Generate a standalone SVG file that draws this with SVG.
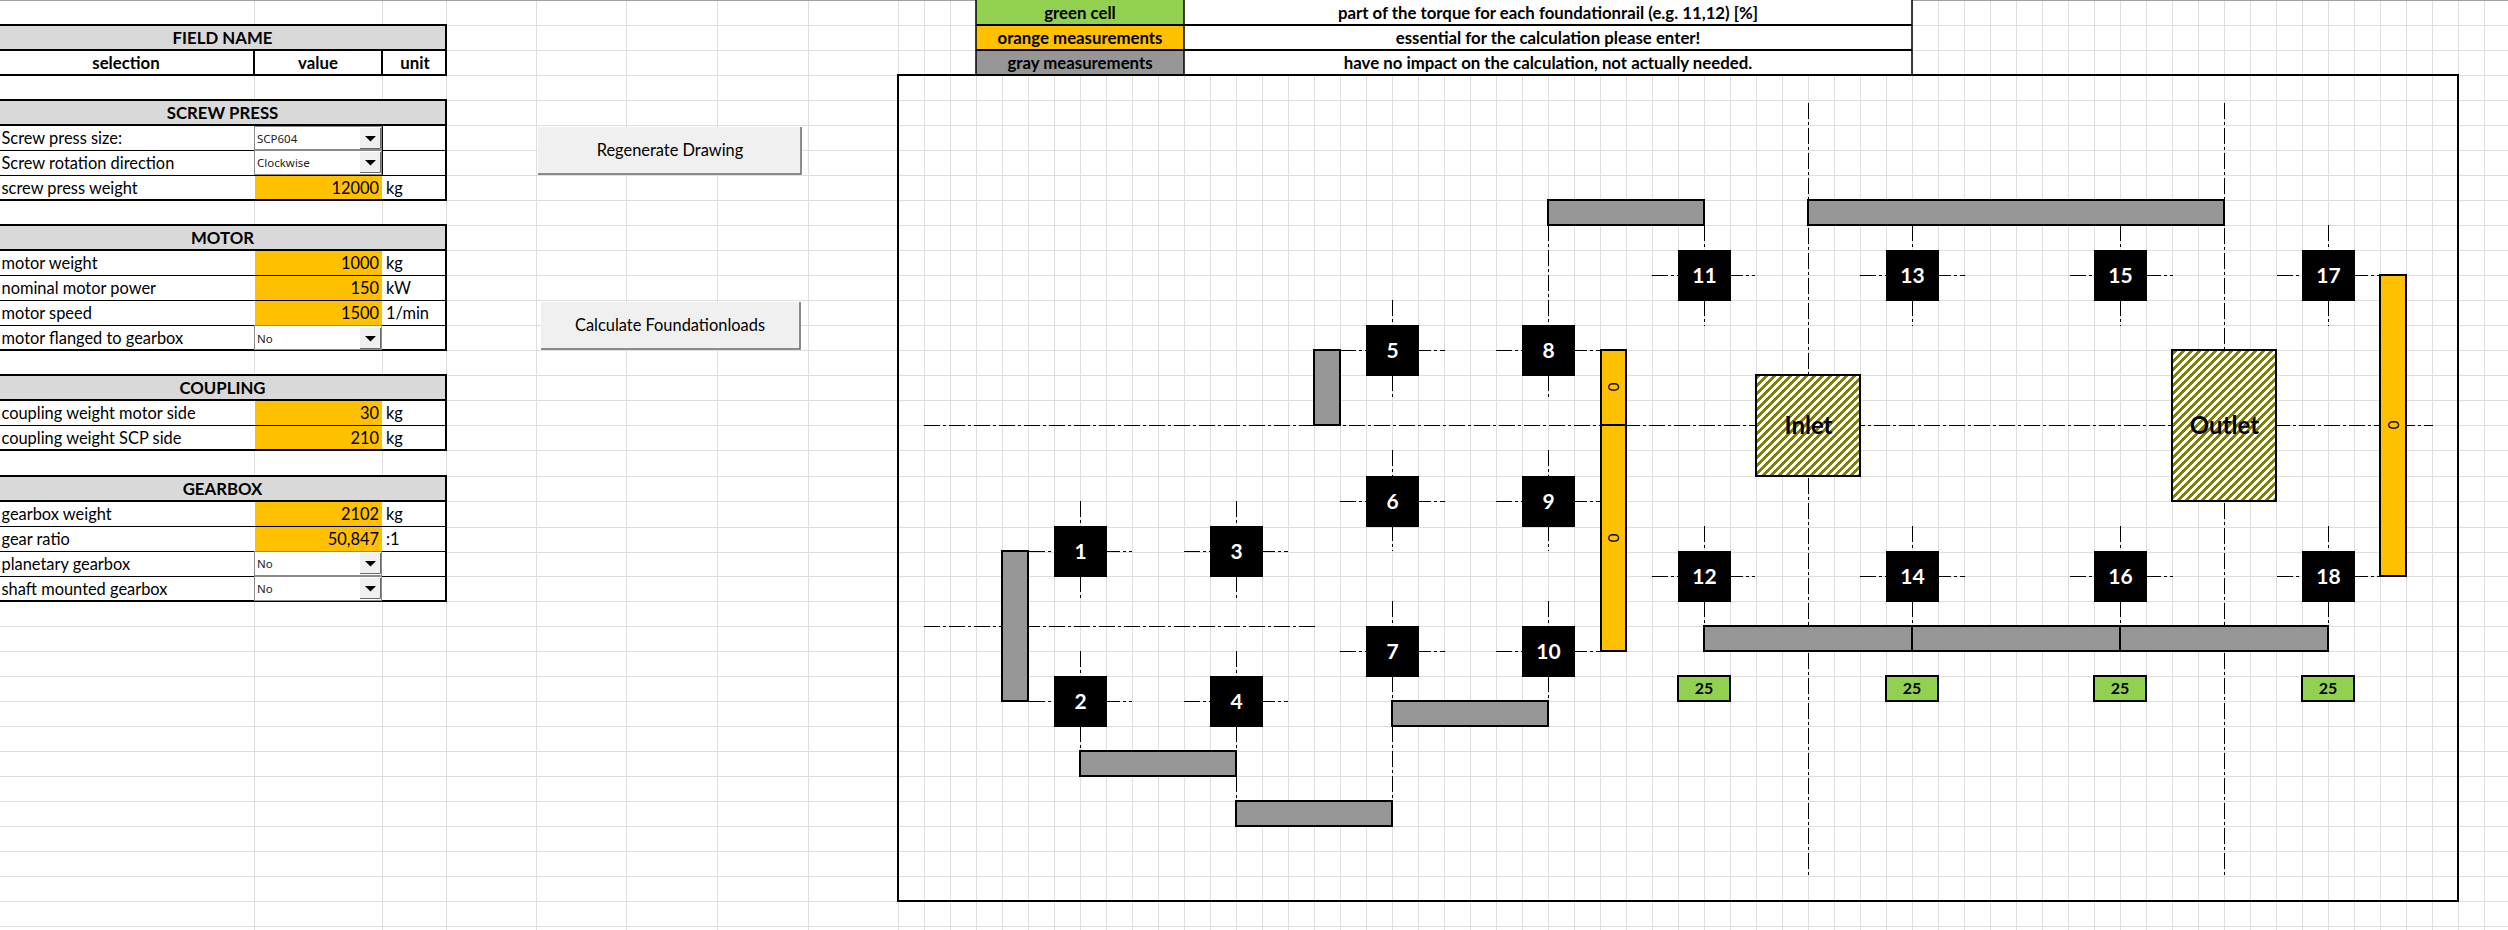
<svg xmlns="http://www.w3.org/2000/svg" width="2508" height="930" viewBox="0 0 2508 930">
<style>
text{font-family:Lato,"Open Sans","Liberation Sans",sans-serif;font-size:16.4px;fill:#000}
.b{font-weight:700;font-size:16.8px}
.c{text-anchor:middle}
.r{text-anchor:end}
.g{stroke:#dedede;stroke-width:1;fill:none}
.hdr{fill:#d9d9d9;stroke:#000;stroke-width:2}
.box{fill:#fff;stroke:#000;stroke-width:2}
.or{fill:#ffc000}
.thin{stroke:#000;stroke-width:1;fill:none}
.dd{font-family:"Noto Sans","Open Sans",sans-serif;font-size:11.5px;fill:#222}
.ddb{fill:#f0f0f0;stroke:#fff;stroke-width:1}
.dde{fill:#fff;stroke:#8a8a8a;stroke-width:1}
.btn{fill:#f0f0f0}
.bs{stroke:#696969;stroke-width:1.5;fill:none}
.gr{fill:#969696;stroke:#000;stroke-width:2}
.bar{fill:#ffc000;stroke:#000;stroke-width:2}
.gn{fill:#92d050;stroke:#000;stroke-width:2}
.hatch{fill:url(#h);stroke:#000;stroke-width:2}
.n rect{fill:#000}
.n text{fill:#fff;font-weight:700;font-size:21px;text-anchor:middle}
.cl{stroke:#000;stroke-width:1;fill:none;stroke-dasharray:16 3 3 3}
.big{font-weight:700;font-size:24px;text-anchor:middle}
.z{font-size:15px;text-anchor:middle}
.p{font-weight:700;font-size:16px;text-anchor:middle}
</style>
<defs>
<pattern id="v" x="898" y="0" width="26" height="930" patternUnits="userSpaceOnUse"><rect x="0" y="0" width="1" height="930" fill="#dedede"/></pattern>
<pattern id="h" width="8" height="8" patternUnits="userSpaceOnUse"><rect width="8" height="8" fill="#fff"/><path d="M0 4L4 0H8L0 8ZM8 4L4 8H8Z" fill="#808000" shape-rendering="crispEdges"/></pattern>
<g id="arrow"><rect class="ddb" x="359.5" y="0.5" width="21" height="21"/><path d="M380.5 1V21.5H360" stroke="#696969" stroke-width="1" fill="none"/><path d="M365 9H376L370.5 14.5Z" fill="#000"/></g>
</defs>
<g id="grid">
<rect width="2508" height="930" fill="#fff"/>
<path class="g" d="M254.5 0V930M382.5 0V930M446.5 0V930M536.5 0V930M626.5 0V930M717.5 0V930M808.5 0V930"/>
<rect x="898" y="0" width="1610" height="930" fill="url(#v)"/>
<path class="g" d="M0 25.5H2508M0 50.5H2508M0 75.5H2508M0 100.5H2508M0 125.5H2508M0 150.5H2508M0 175.5H2508M0 200.5H2508M0 225.5H2508M0 250.5H2508M0 275.5H2508M0 300.5H2508M0 325.5H2508M0 350.5H2508M0 375.5H2508M0 400.5H2508M0 425.5H2508M0 450.5H2508M0 476.5H2508M0 501.5H2508M0 527.5H2508M0 552.5H2508M0 576.5H2508M0 601.5H2508M0 626.5H2508M0 651.5H2508M0 676.5H2508M0 701.5H2508M0 726.5H2508M0 751.5H2508M0 776.5H2508M0 801.5H2508M0 826.5H2508M0 851.5H2508M0 876.5H2508M0 901.5H2508M0 926.5H2508"/>
<rect width="2508" height="1" fill="#a0a0a0"/>
</g>
<g id="field-name">
<rect class="hdr" x="-2" y="25" width="448" height="25"/>
<text class="b c" x="222.5" y="44">FIELD NAME</text>
<rect class="box" x="-2" y="50" width="256" height="25"/><rect class="box" x="254" y="50" width="128" height="25"/><rect class="box" x="382" y="50" width="64" height="25"/>
<text class="b c" x="126" y="69">selection</text><text class="b c" x="318" y="69">value</text><text class="b c" x="415" y="69">unit</text>
</g>
<g id="screw-press">
<rect class="box" x="-2" y="125" width="448" height="75"/>
<rect class="hdr" x="-2" y="100" width="448" height="25"/>
<text class="b c" x="222.5" y="119">SCREW PRESS</text>
<rect class="or" x="255" y="176" width="127" height="23"/>
<path class="thin" d="M0 150.5H445M0 175.5H445M382.5 126V175"/>
<text x="1.5" y="144">Screw press size:</text><text x="1.5" y="169">Screw rotation direction</text><text x="1.5" y="194">screw press weight</text>
<rect class="dde" x="254.5" y="126.5" width="127" height="23"/><text class="dd" x="257" y="143">SCP604</text><use href="#arrow" y="127"/>
<rect class="dde" x="254.5" y="150.5" width="127" height="24"/><text class="dd" x="257" y="167">Clockwise</text><use href="#arrow" y="151"/>
<text class="r" x="379" y="194">12000</text><text x="386" y="194">kg</text>
</g>
<g id="motor">
<rect class="box" x="-2" y="250" width="448" height="100"/>
<rect class="hdr" x="-2" y="225" width="448" height="25"/>
<text class="b c" x="222.5" y="244">MOTOR</text>
<rect class="or" x="255" y="251" width="127" height="74"/>
<path class="thin" d="M0 275.5H445M0 300.5H445M0 325.5H445"/>
<text x="1.5" y="269">motor weight</text><text x="1.5" y="294">nominal motor power</text><text x="1.5" y="319">motor speed</text><text x="1.5" y="344">motor flanged to gearbox</text>
<text class="r" x="379" y="269">1000</text><text x="386" y="269">kg</text>
<text class="r" x="379" y="294">150</text><text x="386" y="294">kW</text>
<text class="r" x="379" y="319">1500</text><text x="386" y="319">1/min</text>
<rect class="dde" x="254.5" y="325.5" width="127" height="24"/><text class="dd" x="257" y="343">No</text><use href="#arrow" y="327"/>
</g>
<g id="coupling">
<rect class="box" x="-2" y="400" width="448" height="50"/>
<rect class="hdr" x="-2" y="375" width="448" height="25"/>
<text class="b c" x="222.5" y="394">COUPLING</text>
<rect class="or" x="255" y="401" width="127" height="48"/>
<path class="thin" d="M0 425.5H445"/>
<text x="1.5" y="419">coupling weight motor side</text><text x="1.5" y="444">coupling weight SCP side</text>
<text class="r" x="379" y="419">30</text><text x="386" y="419">kg</text>
<text class="r" x="379" y="444">210</text><text x="386" y="444">kg</text>
</g>
<g id="gearbox">
<rect class="box" x="-2" y="501" width="448" height="100"/>
<rect class="hdr" x="-2" y="476" width="448" height="25"/>
<text class="b c" x="222.5" y="495">GEARBOX</text>
<rect class="or" x="255" y="502" width="127" height="49"/>
<path class="thin" d="M0 526.5H445M0 551.5H445M0 576.5H445"/>
<text x="1.5" y="520">gearbox weight</text><text x="1.5" y="545">gear ratio</text><text x="1.5" y="570">planetary gearbox</text><text x="1.5" y="595">shaft mounted gearbox</text>
<text class="r" x="379" y="520">2102</text><text x="386" y="520">kg</text>
<text class="r" x="379" y="545">50,847</text><text x="386" y="545">:1</text>
<rect class="dde" x="254.5" y="551.5" width="127" height="24"/><text class="dd" x="257" y="568">No</text><use href="#arrow" y="552"/>
<rect class="dde" x="254.5" y="576.5" width="127" height="24"/><text class="dd" x="257" y="593">No</text><use href="#arrow" y="577"/>
</g>
<g id="btn-regenerate"><rect class="btn" x="538" y="127" width="264" height="48"/><path class="bs" d="M801 127V174H538"/><text class="c" x="670" y="156">Regenerate Drawing</text></g>
<g id="btn-calculate"><rect class="btn" x="541" y="302" width="260" height="48"/><path class="bs" d="M800 302V349H541"/><text class="c" x="670" y="331">Calculate Foundationloads</text></g>
<g id="legend">
<rect x="976" y="0" width="208" height="25" fill="#92d050"/><rect x="976" y="25" width="208" height="25" fill="#ffc000"/><rect x="976" y="50" width="208" height="25" fill="#969696"/>
<rect x="1184" y="0" width="728" height="75" fill="#fff"/>
<path d="M976 0V75M1184 0V75M1912 0V75" stroke="#000" stroke-width="1.5" fill="none"/>
<path d="M976 25H1912M976 50H1912" stroke="#000" stroke-width="2" fill="none"/>
<text class="b c" x="1080" y="19">green cell</text><text class="b c" x="1548" y="19">part of the torque for each foundationrail (e.g. 11,12) [%]</text>
<text class="b c" x="1080" y="44">orange measurements</text><text class="b c" x="1548" y="44">essential for the calculation please enter!</text>
<text class="b c" x="1080" y="69">gray measurements</text><text class="b c" x="1548" y="69">have no impact on the calculation, not actually needed.</text>
</g>
<rect id="frame" x="898" y="75" width="1560" height="826" fill="none" stroke="#000" stroke-width="2"/>
<g id="connectors">
<path class="cl" d="M924 425.5H2433M924 626.5H1315"/>
<path class="cl" d="M1808.5 103V875M2224.5 103V875"/>
<path class="cl" d="M1080.5 501V600M1236.5 501V600M1080.5 651V751M1236.5 651V801M1392.5 300V400M1548.5 225V400M1392.5 450V551M1548.5 450V551M1392.5 601V801M1548.5 601V701"/>
<path class="cl" d="M1704.5 225V326M1912.5 225V326M2120.5 225V326M2328.5 225V326M1704.5 526V626M1912.5 526V626M2120.5 526V626M2328.5 526V626"/>
<path class="cl" d="M1029 551.5H1132M1184 551.5H1288M1029 701.5H1132M1184 701.5H1288M1340 350.5H1445M1496 350.5H1601M1340 501.5H1445M1496 501.5H1601M1340 651.5H1445M1496 651.5H1601"/>
<path class="cl" d="M1652 275.5H1755M1860 275.5H1965M2070 275.5H2173M2277 275.5H2380M1652 576.5H1755M1860 576.5H1965M2070 576.5H2173M2277 576.5H2380"/>
</g>
<g id="rail-left"><rect class="gr" x="1002" y="551" width="26" height="150"/></g>
<g id="rail-upper-left"><rect class="gr" x="1314" y="350" width="26" height="75"/></g>
<g id="rail-2"><rect class="gr" x="1080" y="751" width="156" height="25"/></g>
<g id="rail-4"><rect class="gr" x="1236" y="801" width="156" height="25"/></g>
<g id="rail-7"><rect class="gr" x="1392" y="701" width="156" height="25"/></g>
<g id="rail-8"><rect class="gr" x="1548" y="200" width="156" height="25"/></g>
<g id="rail-top"><rect class="gr" x="1808" y="200" width="416" height="25"/></g>
<g id="rail-bottom"><rect class="gr" x="1704" y="626" width="624" height="25"/><path d="M1912 626V651M2120 626V651" stroke="#000" stroke-width="2"/></g>
<g id="bar-mid"><rect class="bar" x="1601" y="350" width="25" height="75"/><rect class="bar" x="1601" y="425" width="25" height="226"/>
<text class="z" transform="translate(1614,387) rotate(-90)" y="5">0</text><text class="z" transform="translate(1614,538) rotate(-90)" y="5">0</text></g>
<g id="bar-right"><rect class="bar" x="2380" y="275" width="26" height="301"/><text class="z" transform="translate(2394,425) rotate(-90)" y="5">0</text></g>
<g id="inlet"><rect class="hatch" x="1756" y="375" width="104" height="101"/><text class="big" x="1808.5" y="434">Inlet</text></g>
<g id="outlet"><rect class="hatch" x="2172" y="350" width="104" height="151"/><text class="big" x="2224.5" y="434">Outlet</text></g>
<g id="node-1" class="n"><rect x="1054" y="526" width="53" height="51"/><text x="1080.5" y="559">1</text></g>
<g id="node-2" class="n"><rect x="1054" y="676" width="53" height="51"/><text x="1080.5" y="709">2</text></g>
<g id="node-3" class="n"><rect x="1210" y="526" width="53" height="51"/><text x="1236.5" y="559">3</text></g>
<g id="node-4" class="n"><rect x="1210" y="676" width="53" height="51"/><text x="1236.5" y="709">4</text></g>
<g id="node-5" class="n"><rect x="1366" y="325" width="53" height="51"/><text x="1392.5" y="358">5</text></g>
<g id="node-6" class="n"><rect x="1366" y="476" width="53" height="51"/><text x="1392.5" y="509">6</text></g>
<g id="node-7" class="n"><rect x="1366" y="626" width="53" height="51"/><text x="1392.5" y="659">7</text></g>
<g id="node-8" class="n"><rect x="1522" y="325" width="53" height="51"/><text x="1548.5" y="358">8</text></g>
<g id="node-9" class="n"><rect x="1522" y="476" width="53" height="51"/><text x="1548.5" y="509">9</text></g>
<g id="node-10" class="n"><rect x="1522" y="626" width="53" height="51"/><text x="1548.5" y="659">10</text></g>
<g id="node-11" class="n"><rect x="1678" y="250" width="53" height="51"/><text x="1704.5" y="283">11</text></g>
<g id="node-12" class="n"><rect x="1678" y="551" width="53" height="51"/><text x="1704.5" y="584">12</text></g>
<g id="node-13" class="n"><rect x="1886" y="250" width="53" height="51"/><text x="1912.5" y="283">13</text></g>
<g id="node-14" class="n"><rect x="1886" y="551" width="53" height="51"/><text x="1912.5" y="584">14</text></g>
<g id="node-15" class="n"><rect x="2094" y="250" width="53" height="51"/><text x="2120.5" y="283">15</text></g>
<g id="node-16" class="n"><rect x="2094" y="551" width="53" height="51"/><text x="2120.5" y="584">16</text></g>
<g id="node-17" class="n"><rect x="2302" y="250" width="53" height="51"/><text x="2328.5" y="283">17</text></g>
<g id="node-18" class="n"><rect x="2302" y="551" width="53" height="51"/><text x="2328.5" y="584">18</text></g>
<g id="pct-12"><rect class="gn" x="1678" y="676" width="52" height="25"/><text class="p" x="1704" y="694">25</text></g>
<g id="pct-14"><rect class="gn" x="1886" y="676" width="52" height="25"/><text class="p" x="1912" y="694">25</text></g>
<g id="pct-16"><rect class="gn" x="2094" y="676" width="52" height="25"/><text class="p" x="2120" y="694">25</text></g>
<g id="pct-18"><rect class="gn" x="2302" y="676" width="52" height="25"/><text class="p" x="2328" y="694">25</text></g>
</svg>
